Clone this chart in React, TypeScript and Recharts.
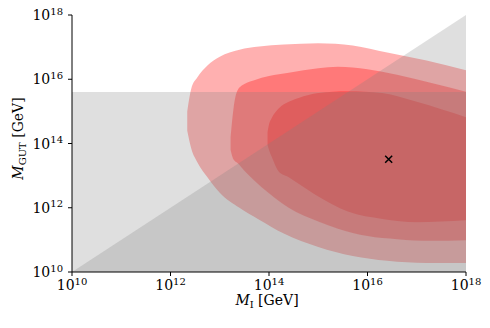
import { ComposedChart, Area, Scatter, XAxis, YAxis, Label } from 'recharts';

const FONT = '"DejaVu Serif", "Liberation Serif", serif';

// log10 of the mass in GeV
const decadeTicks = [10, 12, 14, 16, 18];

// outer (lightest) contour: lower and upper edge of M_GUT at each M_I
const outerX = [12.34, 12.42, 12.55, 12.75, 13.0, 13.4, 13.8, 14.3, 15.0, 15.7, 16.4, 17.2, 18];
const outerLow = [14.4, 13.85, 13.4, 12.95, 12.47, 12.0, 11.63, 11.2, 10.78, 10.5, 10.35, 10.28, 10.28];
const outerHigh = [15.0, 15.7, 16.07, 16.43, 16.7, 16.92, 17.02, 17.08, 17.12, 17.05, 16.83, 16.58, 16.28];

// middle contour
const middleX = [13.22, 13.28, 13.36, 13.5, 13.7, 14.0, 14.4, 15.0, 15.4, 16.0, 16.6, 17.3, 18];
const middleLow = [13.8, 13.5, 13.39, 13.15, 12.85, 12.45, 12.0, 11.57, 11.35, 11.12, 11.02, 10.97, 10.99];
const middleHigh = [14.2, 15.1, 15.65, 15.85, 15.97, 16.1, 16.2, 16.34, 16.39, 16.31, 16.14, 15.88, 15.61];

// inner contour
const innerX = [13.97, 14.0, 14.05, 14.2, 14.4, 14.6, 15.0, 15.6, 16.3, 17.0, 18];
const innerLow = [13.95, 13.8, 13.6, 13.12, 12.95, 12.75, 12.35, 11.88, 11.65, 11.55, 11.61];
const innerHigh = [14.35, 14.6, 14.78, 15.1, 15.3, 15.42, 15.57, 15.63, 15.57, 15.3, 14.82];

// excluded regions
const bandX = [10, 18];
const bandTop = 15.6;
const diagonalX = [10, 18];

const bestFit = [{ x: 16.43, y: 13.51 }];

const toRange = (xs: number[], lo: number[], hi: number[]) =>
    xs.map((x, i) => ({ x, range: [lo[i], hi[i]] }));

const outerData = toRange(outerX, outerLow, outerHigh);
const middleData = toRange(middleX, middleLow, middleHigh);
const innerData = toRange(innerX, innerLow, innerHigh);
const bandData = bandX.map((x) => ({ x, range: [10, bandTop] }));
const triangleData = diagonalX.map((x) => ({ x, range: [10, x] }));

const XTick = ({ x, y, payload }: any) => (
    <text x={x} y={y + 14} textAnchor="middle" fontFamily={FONT} fontSize={14} fill="#000">
        <tspan>10</tspan>
        <tspan dy={-5.5} fontSize={10}>{payload.value}</tspan>
    </text>
);

const YTick = ({ x, y, payload }: any) => (
    <text x={x - 5} y={y + 5} textAnchor="end" fontFamily={FONT} fontSize={14} fill="#000">
        <tspan>10</tspan>
        <tspan dy={-5.5} fontSize={10}>{payload.value}</tspan>
    </text>
);

const XLabel = ({ viewBox }: any) => (
    <text x={viewBox.x + viewBox.width / 2 - 2} y={viewBox.y + 32.5} textAnchor="middle" fontFamily={FONT} fontSize={14} fill="#000">
        <tspan fontStyle="italic">M</tspan>
        <tspan dy={3} fontSize={10}>I</tspan>
        <tspan dy={-3}> [GeV]</tspan>
    </text>
);

const YLabel = ({ viewBox }: any) => {
    const cx = 23;
    const cy = viewBox.y + viewBox.height / 2 - 5;
    return (
        <text x={cx} y={cy} transform={`rotate(-90, ${cx}, ${cy})`} textAnchor="middle" fontFamily={FONT} fontSize={14} fill="#000">
            <tspan fontStyle="italic">M</tspan>
            <tspan dy={3} fontSize={10}>GUT</tspan>
            <tspan dy={-3}> [GeV]</tspan>
        </text>
    );
};

const Cross = ({ cx, cy }: any) => (
    <path d={`M${cx - 3.5},${cy - 3.5}L${cx + 3.5},${cy + 3.5}M${cx - 3.5},${cy + 3.5}L${cx + 3.5},${cy - 3.5}`} stroke="#000" strokeWidth={1.5} />
);

const App = () => {
    return (
        <div style={{ position: 'absolute', left: 0, top: 0, background: '#fff' }}>
            <ComposedChart width={490} height={328} margin={{ top: 15, right: 24, bottom: 0, left: 0 }}>
                <XAxis
                    dataKey="x"
                    type="number"
                    domain={[10, 18]}
                    ticks={decadeTicks}
                    interval={0}
                    allowDataOverflow
                    height={56}
                    tickSize={4}
                    tickMargin={0}
                    axisLine={{ stroke: '#000' }}
                    tickLine={{ stroke: '#000' }}
                    tick={(p: any) => <XTick {...p} />}
                >
                    <Label content={(p: any) => <XLabel {...p} />} />
                </XAxis>
                <YAxis
                    type="number"
                    domain={[10, 18]}
                    ticks={decadeTicks}
                    interval={0}
                    allowDataOverflow
                    width={72}
                    tickSize={4}
                    tickMargin={0}
                    axisLine={{ stroke: '#000' }}
                    tickLine={{ stroke: '#000' }}
                    tick={(p: any) => <YTick {...p} />}
                >
                    <Label content={(p: any) => <YLabel {...p} />} />
                </YAxis>
                <XAxis xAxisId="top" orientation="top" type="number" domain={[10, 18]} height={0} tick={false} tickLine={false} axisLine={{ stroke: '#000' }} />
                <YAxis yAxisId="right" orientation="right" type="number" domain={[10, 18]} width={0} tick={false} tickLine={false} axisLine={{ stroke: '#000' }} />

                <Area data={outerData} dataKey="range" type="monotone" stroke="none" fill="#ff0000" fillOpacity={0.31} dot={false} activeDot={false} isAnimationActive={false} />
                <Area data={middleData} dataKey="range" type="monotone" stroke="none" fill="#ff0000" fillOpacity={0.31} dot={false} activeDot={false} isAnimationActive={false} />
                <Area data={innerData} dataKey="range" type="monotone" stroke="none" fill="#ff0000" fillOpacity={0.31} dot={false} activeDot={false} isAnimationActive={false} />
                <Area data={bandData} dataKey="range" type="linear" stroke="none" fill="#808080" fillOpacity={0.25} dot={false} activeDot={false} isAnimationActive={false} />
                <Area data={triangleData} dataKey="range" type="linear" stroke="none" fill="#808080" fillOpacity={0.25} dot={false} activeDot={false} isAnimationActive={false} />
                <Scatter data={bestFit} dataKey="y" shape={(p: any) => <Cross {...p} />} isAnimationActive={false} />
            </ComposedChart>
        </div>
    );
};

export default App;
